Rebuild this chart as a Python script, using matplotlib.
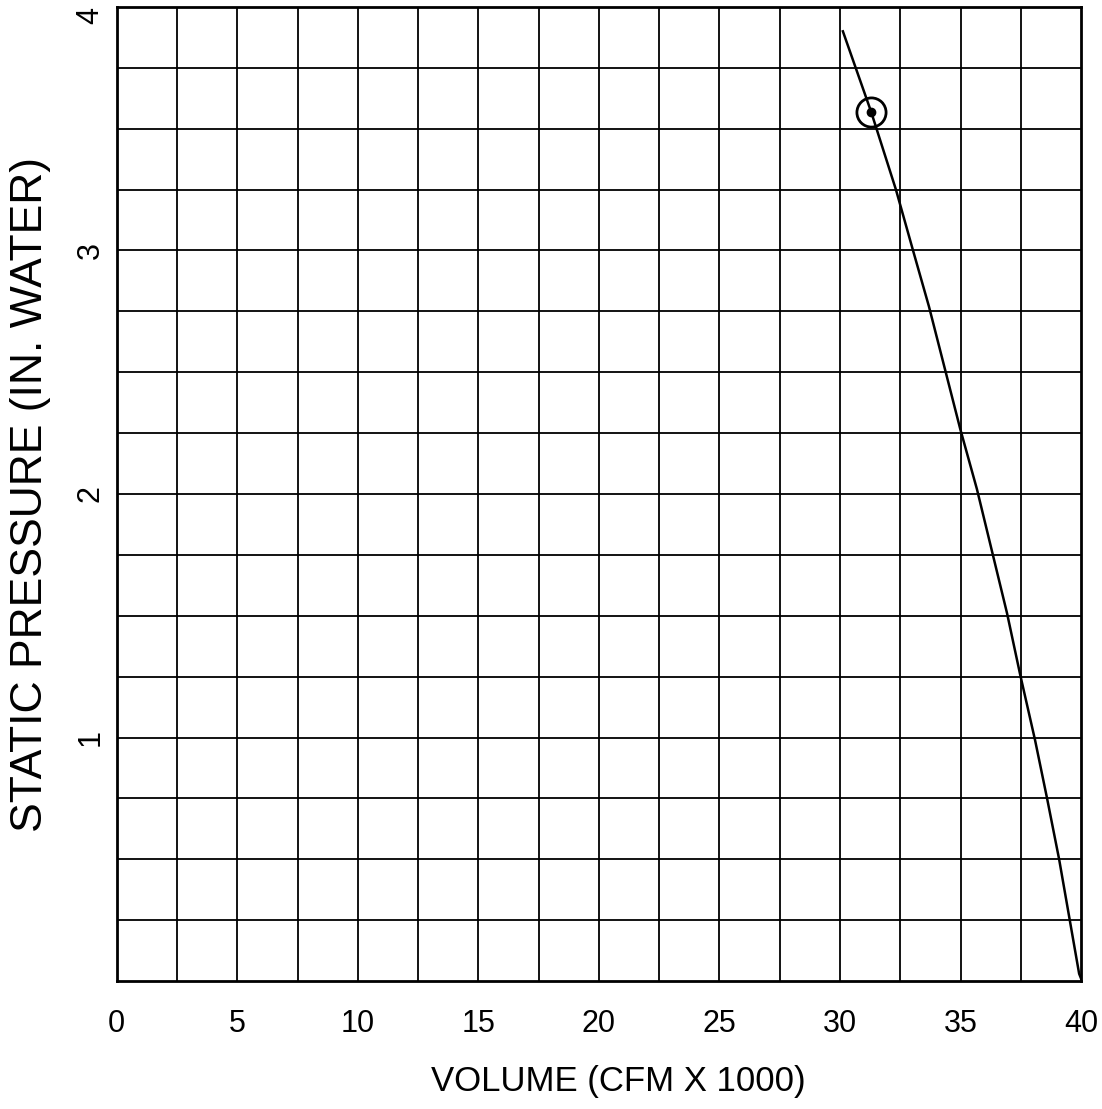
"""Fan curve: static pressure vs volume, redrawn from a scanned chart."""
import matplotlib
matplotlib.use("Agg")
import matplotlib.pyplot as plt
import numpy as np

# curve (volume in CFM x 1000, pressure in inches of water)
volume = [30.12, 31.29, 32.32, 33.03, 33.69, 34.98, 35.68, 36.93, 37.47,
          38.09, 38.59, 39.09, 39.92, 40.0]
pressure = [3.90, 3.57, 3.25, 3.00, 2.77, 2.27, 2.02, 1.51, 1.26,
            0.99, 0.75, 0.50, 0.03, 0.01]

# operating point marked with a circle
op_volume = [31.29]
op_pressure = [3.57]

x_ticks = [0, 5, 10, 15, 20, 25, 30, 35, 40]
y_ticks = [1, 2, 3, 4]

plt.rcParams["font.family"] = ["Liberation Sans", "DejaVu Sans"]

fig = plt.figure(figsize=(11.02, 11.09), dpi=100)
ax = fig.add_axes([0.106, 0.1154, 0.875, 0.8783])

ax.set_xlim(0, 40)
ax.set_ylim(0, 4)

for gx in np.arange(2.5, 40, 2.5):
    ax.axvline(gx, color="black", lw=1.3, zorder=1)
for gy in np.arange(0.25, 4, 0.25):
    ax.axhline(gy, color="black", lw=1.3, zorder=1)

ax.plot(volume, pressure, color="black", lw=1.8, zorder=3)
ax.plot(op_volume, op_pressure, "o", ms=21, mfc="none", mec="black", mew=2, zorder=4)
ax.plot(op_volume, op_pressure, "o", ms=6, color="black", zorder=4)

for s in ax.spines.values():
    s.set_linewidth(2)
    s.set_color("black")

ax.set_xticks(x_ticks)
ax.set_xticklabels([str(t) for t in x_ticks], fontsize=22)
ax.set_yticks(y_ticks)
ax.set_yticklabels([str(t) for t in y_ticks], fontsize=22, rotation=90, va="center")
ax.get_yticklabels()[-1].set_va("top")
ax.tick_params(axis="x", length=0, pad=20)
ax.tick_params(axis="y", length=0, pad=8)

ax.set_xlabel("VOLUME (CFM X 1000)", fontsize=25)
ax.xaxis.set_label_coords(0.52, -0.086)
ax.set_ylabel("STATIC PRESSURE (IN. WATER)", fontsize=32)
ax.yaxis.set_label_coords(-0.068, 0.5)

fig.savefig("out.png", dpi=100)
